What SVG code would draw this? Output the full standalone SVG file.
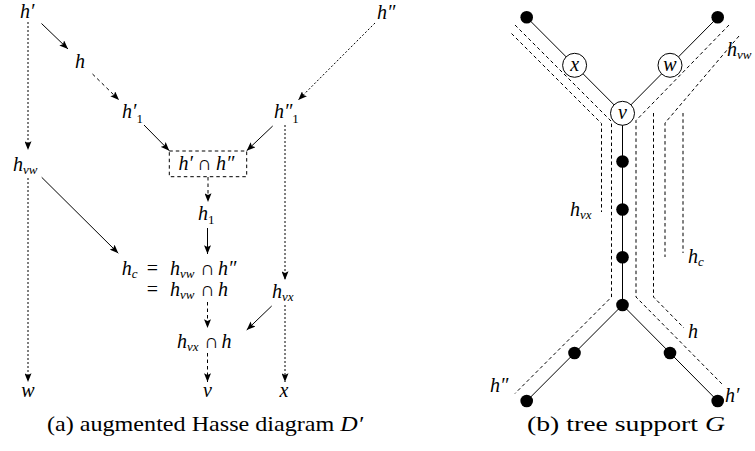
<svg xmlns="http://www.w3.org/2000/svg" width="755" height="451" viewBox="0 0 755 451">
<style>
.m{font-family:"Liberation Serif","DejaVu Serif",serif;font-style:italic;font-size:20px;fill:#000}
.s{font-size:13px}
.r{font-style:normal}
.cap{font-family:"Liberation Serif","DejaVu Serif",serif;font-size:22px;fill:#000}
.sol{stroke:#000;stroke-width:1;fill:none}
.dot{stroke:#000;stroke-width:1;fill:none;stroke-dasharray:2 2}
.dsh{stroke:#000;stroke-width:1;fill:none;stroke-dasharray:3.5 3}
.arr{marker-end:url(#ah)}
.tl{stroke:#000;stroke-width:1;fill:none;stroke-dasharray:3.5 2.8}
.fn{fill:#000}
.on{fill:#fff;stroke:#000;stroke-width:1}
</style>
<defs>
<marker id="ah" viewBox="0 0 10 8" refX="10" refY="4" markerWidth="9" markerHeight="7" markerUnits="userSpaceOnUse" orient="auto">
<path d="M0,0 L10,4 L0,8 L2,4 z" fill="#000" stroke="none"/>
</marker>
</defs>

<g id="connectors-a">
<line class="dot arr" x1="28" y1="22" x2="28" y2="150"/>
<line class="sol arr" x1="41.5" y1="23.5" x2="68" y2="49"/>
<line class="dsh arr" x1="92.5" y1="74" x2="119" y2="100"/>
<line class="sol arr" x1="144" y1="125" x2="169.3" y2="150.7"/>
<line class="dot arr" x1="375" y1="23" x2="298.3" y2="100"/>
<line class="sol arr" x1="272.7" y1="126" x2="246.7" y2="150.7"/>
<line class="dot arr" x1="285" y1="125" x2="285" y2="280"/>
<line class="dsh arr" x1="208" y1="177" x2="208" y2="202"/>
<line class="sol arr" x1="207.5" y1="228" x2="207.5" y2="254"/>
<line class="sol arr" x1="41.7" y1="177.3" x2="118.3" y2="253.3"/>
<line class="dot arr" x1="28" y1="178" x2="28" y2="382"/>
<line class="dsh arr" x1="207.5" y1="302" x2="207.5" y2="328"/>
<line class="sol arr" x1="271.7" y1="306" x2="246.7" y2="330"/>
<line class="dot arr" x1="285" y1="305" x2="285" y2="382"/>
<line class="dsh arr" x1="207.5" y1="353" x2="207.5" y2="382"/>
</g>

<g id="n-hp"><text class="m" x="20" y="18">h′</text></g>
<g id="n-h"><text class="m" x="75" y="68">h</text></g>
<g id="n-hp1"><text class="m" x="122" y="118">h′<tspan class="s r" dy="5">1</tspan></text></g>
<g id="n-hpp"><text class="m" x="377" y="19">h″</text></g>
<g id="n-hpp1"><text class="m" x="274" y="118">h″<tspan class="s r" dy="5">1</tspan></text></g>
<g id="n-box">
<rect x="169.3" y="151" width="77.4" height="25.7" class="dsh"/>
<text class="m" x="178.5" y="170">h′<tspan class="r" x="197">∩</tspan><tspan x="216">h″</tspan></text>
</g>
<g id="n-hvw"><text class="m" x="13" y="171">h<tspan class="s" dy="3">vw</tspan></text></g>
<g id="n-h1"><text class="m" x="198" y="220">h<tspan class="s r" dy="4">1</tspan></text></g>
<g id="n-hc">
<text class="m" x="121.7" y="275">h<tspan class="s" dy="3">c</tspan><tspan class="r" dy="-3" x="146.7">=</tspan><tspan x="170">h</tspan><tspan class="s" dy="3">vw</tspan><tspan class="r" dy="-3" x="200">∩</tspan><tspan x="218">h″</tspan></text>
<text class="m" x="146.7" y="296"><tspan class="r">=</tspan><tspan x="170">h</tspan><tspan class="s" dy="3">vw</tspan><tspan class="r" dy="-3" x="200">∩</tspan><tspan x="218">h</tspan></text>
</g>
<g id="n-hvx"><text class="m" x="272" y="298">h<tspan class="s" dy="3">vx</tspan></text></g>
<g id="n-hvxh"><text class="m" x="177" y="348">h<tspan class="s" dy="3">vx</tspan><tspan class="r" dy="-3" x="204">∩</tspan><tspan x="221.5">h</tspan></text></g>
<g id="n-w"><text class="m" x="28" y="397" text-anchor="middle">w</text></g>
<g id="n-v"><text class="m" x="207.5" y="397" text-anchor="middle">v</text></g>
<g id="n-x"><text class="m" x="284" y="397" text-anchor="middle">x</text></g>
<text class="cap" x="47" y="431" textLength="316" lengthAdjust="spacingAndGlyphs">(a) augmented Hasse diagram <tspan font-style="italic">D′</tspan></text>

<g id="tree-edges">
<line class="sol" x1="526.7" y1="17.3" x2="622.5" y2="113.3"/>
<line class="sol" x1="717.7" y1="17.3" x2="622.5" y2="113.3"/>
<line class="sol" x1="622.5" y1="113.3" x2="622.5" y2="305"/>
<line class="sol" x1="622.5" y1="305" x2="526.7" y2="401"/>
<line class="sol" x1="622.5" y1="305" x2="717.7" y2="401"/>
</g>
<g id="tree-paths">
<polyline class="tl" points="511.5,33.5 601.5,123.5 601.5,212"/>
<polyline class="tl" points="515,25 611.5,121.5 611.5,297 515,393.5"/>
<polyline class="tl" points="729,25 636,120.5 636,297 723,385"/>
<polyline class="tl" points="739,36 665,123 665,257"/>
<polyline class="tl" points="653.5,113 653.5,297 684,328"/>
<polyline class="tl" points="683,113 683,253"/>
</g>
<g id="t-top-l"><circle class="fn" cx="526.7" cy="17.3" r="6.3"/></g>
<g id="t-top-r"><circle class="fn" cx="717.7" cy="17.3" r="6.3"/></g>
<g id="t-x"><circle class="on" cx="574.6" cy="65.3" r="12"/><text class="m" x="574.6" y="70.5" text-anchor="middle" font-size="17">x</text></g>
<g id="t-w"><circle class="on" cx="670" cy="65.3" r="12"/><text class="m" x="670" y="70.5" text-anchor="middle" font-size="17">w</text></g>
<g id="t-v"><circle class="on" cx="622.5" cy="113.3" r="12"/><text class="m" x="622.5" y="118.5" text-anchor="middle" font-size="17">v</text></g>
<g id="t-n1"><circle class="fn" cx="622.5" cy="161.5" r="6.3"/></g>
<g id="t-n2"><circle class="fn" cx="622.5" cy="209.5" r="6.3"/></g>
<g id="t-n3"><circle class="fn" cx="622.5" cy="257.3" r="6.3"/></g>
<g id="t-n4"><circle class="fn" cx="622.5" cy="305" r="6.3"/></g>
<g id="t-l1"><circle class="fn" cx="574.5" cy="353" r="6.3"/></g>
<g id="t-r1"><circle class="fn" cx="670" cy="353" r="6.3"/></g>
<g id="t-bl"><circle class="fn" cx="526.7" cy="401" r="6.3"/></g>
<g id="t-br"><circle class="fn" cx="717.7" cy="401" r="6.3"/></g>
<g id="tree-labels">
<text class="m" x="727" y="56">h<tspan class="s" dy="3">vw</tspan></text>
<text class="m" x="570" y="216">h<tspan class="s" dy="3">vx</tspan></text>
<text class="m" x="688" y="263">h<tspan class="s" dy="3">c</tspan></text>
<text class="m" x="688" y="338">h</text>
<text class="m" x="490" y="392">h″</text>
<text class="m" x="725" y="402">h′</text>
</g>
<text class="cap" x="527" y="431" textLength="198" lengthAdjust="spacingAndGlyphs">(b) tree support <tspan font-style="italic">G</tspan></text>
</svg>
